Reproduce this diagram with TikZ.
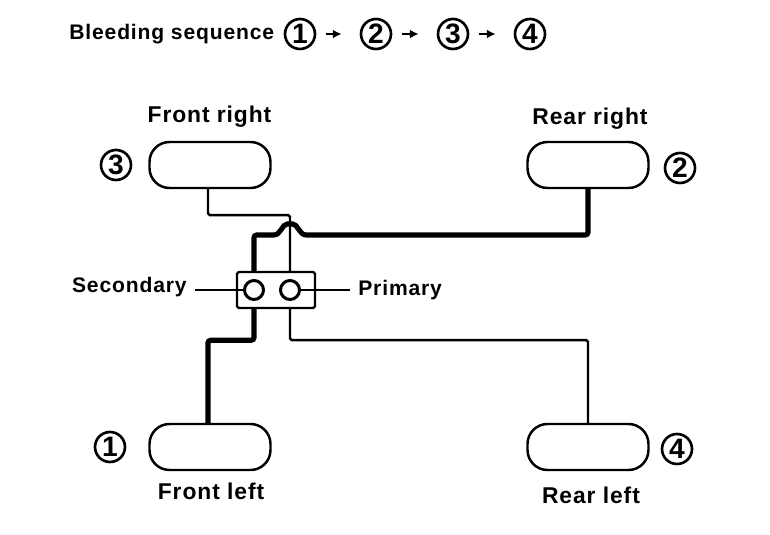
\documentclass[tikz,border=0pt]{standalone}
\usepackage{fontspec}
\setmainfont{Liberation Sans}[LetterSpace=4.0]
\usetikzlibrary{arrows.meta, calc, positioning}
\newcommand{\bleedstep}[3]
{
	\node[stepmark] at #2 (#1){#3};
}
\tikzset{
	wheelbox/.style={draw=black, line width=1.4pt, rounded corners=0.4cm,
		minimum width=2.42cm, minimum height=0.92cm},
	stepmark/.style={draw=black, circle, line width=1.5pt, inner sep=0pt,
		minimum size=0.6cm, font=\fontsize{16}{16}\selectfont\bfseries},
	label/.style={font=\fontsize{12}{14}\selectfont\bfseries, inner sep=0pt},
	wheellabel/.style={font=\fontsize{13}{15}\selectfont\bfseries, inner sep=0pt},
	port/.style={draw=black, circle, line width=1.7pt, inner sep=0pt, minimum size=0.38cm},
	thinpipe/.style={line width=1.4pt, rounded corners=1pt},
	thickpipe/.style={line width=2.9pt, rounded corners=1.5pt},
	seqarrow/.style={line width=1.3pt, -{Latex[length=5pt,width=5pt]}}
}

\begin{document}
\begin{tikzpicture}
	\useasboundingbox (0, 0) rectangle (15.4, 10.7);

	% header
	\node[label, anchor=west] at (1.38, 10.02) (title){Bleeding sequence};
	\bleedstep{s1}{(6.0, 10.02)}{1}
	\bleedstep{s2}{(7.52, 10.02)}{2}
	\bleedstep{s3}{(9.06, 10.02)}{3}
	\bleedstep{s4}{(10.6, 10.02)}{4}
	\draw[seqarrow, shorten <=0.2cm, shorten >=0.36cm] (s1) -- (s2);
	\draw[seqarrow, shorten <=0.2cm, shorten >=0.36cm] (s2) -- (s3);
	\draw[seqarrow, shorten <=0.2cm, shorten >=0.36cm] (s3) -- (s4);

	% wheels
	\node[wheelbox] at (4.2, 7.4) (FR){};
	\node[wheelbox] at (11.76, 7.4) (RR){};
	\node[wheelbox] at (4.2, 1.76) (FL){};
	\node[wheelbox] at (11.76, 1.76) (RL){};
	\node[wheellabel] at (4.19, 8.36) (FRtext){Front right};
	\node[wheellabel] at (11.8, 8.32) (RRtext){Rear right};
	\node[wheellabel] at (4.22, 0.88) (FLtext){Front left};
	\node[wheellabel] at (11.82, 0.8) (RLtext){Rear left};
	\bleedstep{m3}{(2.32, 7.4)}{3}
	\bleedstep{m2}{(13.6, 7.34)}{2}
	\bleedstep{m1}{(2.2, 1.76)}{1}
	\bleedstep{m4}{(13.54, 1.72)}{4}

	% valve block
	\node[draw=black, line width=1.4pt, rounded corners=1pt, minimum width=1.56cm,
		minimum height=0.72cm] at (5.52, 4.9) (valve){};
	\node[port] at (5.08, 4.9) (sec){};
	\node[port] at (5.8, 4.9) (pri){};
	\node[label, anchor=east] at (3.74, 4.96) (sectext){Secondary};
	\node[label, anchor=west] at (7.16, 4.9) (pritext){Primary};
	\draw[line width=1.2pt, shorten <=0.16cm] (sec -| sectext.east) -- (sec);
	\draw[line width=1.2pt, shorten <=0.16cm] (pri -| pritext.west) -- (pri);

	% hop of the secondary line over the primary line
	\coordinate (hopL) at (5.42, 6);
	\coordinate (hopR) at (6.18, 6);
	\coordinate (hopT) at (5.8, 6.22);

	% pipes
	\draw[thinpipe] ([xshift=-0.04cm]FR.south) -- +(0,-0.52) -| (pri |- valve.north);
	\draw[thinpipe] (pri |- valve.south) -- +(0,-0.62) -| (RL.north);
	\draw[thickpipe] (sec |- valve.north) |- (hopL)
		.. controls +(0.2,0) and +(-0.16,0) .. (hopT)
		.. controls +(0.16,0) and +(-0.2,0) .. (hopR)
		-| (RR.south);
	\draw[thickpipe] (sec |- valve.south) -- +(0,-0.62) -| ([xshift=-0.04cm]FL.north);
\end{tikzpicture}
\end{document}
